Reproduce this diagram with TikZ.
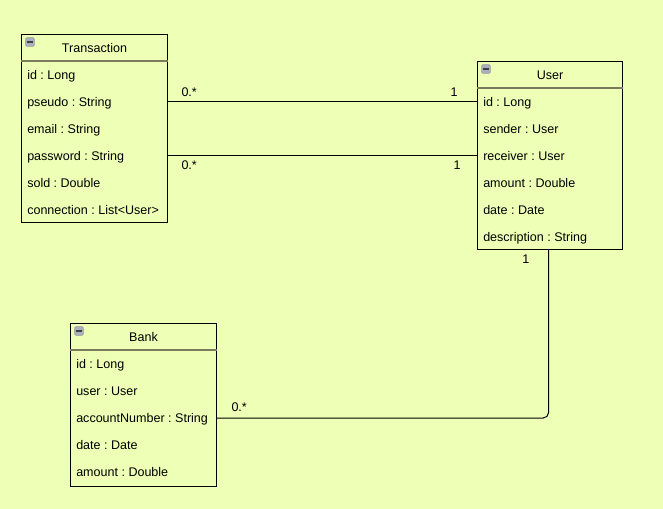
\documentclass[tikz,border=0pt]{standalone}
\usepackage{fontspec}
\setmainfont{Liberation Sans}
\frenchspacing
\usetikzlibrary{positioning}
\definecolor{bgyellow}{HTML}{EEFFB6}
\definecolor{sepline}{HTML}{7A7A5C}
\definecolor{iconfill}{HTML}{A8AFBD}
\tikzset{
  classbox/.style={draw=black,line width=0.75pt,fill=bgyellow,inner sep=0pt,anchor=north west},
  classtitle/.style={font=\fontsize{9.4pt}{11pt}\selectfont,inner sep=0pt,anchor=base},
  rowtext/.style={font=\fontsize{9.4pt}{11pt}\selectfont,inner sep=0pt,anchor=base west},
  multlabel/.style={font=\fontsize{9.4pt}{11pt}\selectfont,inner sep=0pt},
  assoc/.style={draw=black,line width=0.75pt},
  iconbox/.style={draw=gray!80,fill=iconfill,rounded corners=0.8pt,minimum size=6.5pt,inner sep=0pt,line width=0.4pt,
    path picture={\draw[line width=1pt,black!75] ([xshift=1.3pt]path picture bounding box.west) -- ([xshift=-1.3pt]path picture bounding box.east);}}
}
\begin{document}
\begin{tikzpicture}[x=0.75pt,y=-0.75pt]
\fill[bgyellow] (0,0) rectangle (663,509); % fond
\useasboundingbox (0,0) rectangle (663,509);
% classe Transaction
\node[classbox,minimum width=109.5pt,minimum height=141pt] (transaction) at (21,34) {};
\draw[sepline,line width=1pt] ([yshift=-20.25pt]transaction.north west) -- ([yshift=-20.25pt]transaction.north east);
\node[iconbox] (transaction-icon) at ([xshift=6.75pt,yshift=-6pt]transaction.north west) {};
\node[classtitle] (transaction-title) at ([yshift=-13.9pt]transaction.north) {Transaction};
\foreach \txt [count=\i] in {id : Long,pseudo : String,email : String,password : String,sold : Double,connection : List<User>}
  \node[rowtext] (transaction-\i) at ([xshift=4.5pt,yshift={-34.25pt-(\i-1)*20.25pt}]transaction.north west) {\txt};
% classe User
\node[classbox,minimum width=108.75pt,minimum height=141pt] (user) at (477,61) {};
\draw[sepline,line width=1pt] ([yshift=-20.25pt]user.north west) -- ([yshift=-20.25pt]user.north east);
\node[iconbox] (user-icon) at ([xshift=6.75pt,yshift=-6pt]user.north west) {};
\node[classtitle] (user-title) at ([yshift=-13.9pt]user.north) {User};
\foreach \txt [count=\i] in {id : Long,sender : User,receiver : User,amount : Double,date : Date,description : String}
  \node[rowtext] (user-\i) at ([xshift=4.5pt,yshift={-34.25pt-(\i-1)*20.25pt}]user.north west) {\txt};
% classe Bank
\node[classbox,minimum width=109.5pt,minimum height=122.25pt] (bank) at (70,323) {};
\draw[sepline,line width=1pt] ([yshift=-20.25pt]bank.north west) -- ([yshift=-20.25pt]bank.north east);
\node[iconbox] (bank-icon) at ([xshift=6.75pt,yshift=-6pt]bank.north west) {};
\node[classtitle] (bank-title) at ([yshift=-13.9pt]bank.north) {Bank};
\foreach \txt [count=\i] in {id : Long,user : User,accountNumber : String,date : Date,amount : Double}
  \node[rowtext] (bank-\i) at ([xshift=4.5pt,yshift={-34.25pt-(\i-1)*20.25pt}]bank.north west) {\txt};
% associations
\draw[assoc] ([yshift=3.5pt]transaction-2.base -| transaction.east) -- ([yshift=3.5pt]user-1.base -| user.west)
  node[multlabel,pos=0,anchor=south west,xshift=9.75pt,yshift=3.5pt] {0.*}
  node[multlabel,pos=1,anchor=south east,xshift=-14.25pt,yshift=3.5pt] {1};
\draw[assoc] ([yshift=3.5pt]transaction-4.base -| transaction.east) -- ([yshift=3.5pt]user-3.base -| user.west)
  node[multlabel,pos=0,anchor=north west,xshift=9.75pt,yshift=-3.5pt] {0.*}
  node[multlabel,pos=1,anchor=north east,xshift=-12pt,yshift=-3.5pt] {1};
\draw[assoc,rounded corners=4pt] ([yshift=3.5pt]bank-3.base -| bank.east) -| ([xshift=-1.1pt]user.south)
  node[multlabel,pos=0,anchor=south west,xshift=10.5pt,yshift=4.5pt] {0.*}
  node[multlabel,pos=1,anchor=north east,xshift=-14pt,yshift=-3.5pt] {1};
\end{tikzpicture}
\end{document}
